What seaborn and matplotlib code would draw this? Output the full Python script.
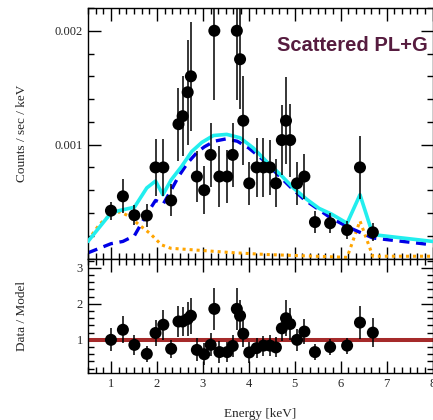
import numpy as np
import pandas as pd
import matplotlib
matplotlib.use("Agg")
import matplotlib.pyplot as plt
from matplotlib.ticker import MultipleLocator
import seaborn as sns

# data -------------------------------------------------------------------------

energy = [1.00, 1.26, 1.51, 1.78, 1.97, 2.14, 2.31, 2.47, 2.56, 2.67, 2.74, 2.87,
          3.03, 3.17, 3.25, 3.36, 3.53, 3.65, 3.74, 3.81, 3.88, 4.01, 4.17, 4.32,
          4.46, 4.59, 4.72, 4.81, 4.90, 5.05, 5.21, 5.44, 5.77, 6.14, 6.42, 6.70]

counts = [0.00042, 0.000546, 0.00038, 0.000377, 0.0008, 0.0008, 0.00051, 0.00118,
          0.00125, 0.00146, 0.0016, 0.00072, 0.0006, 0.00091, 0.002, 0.00072,
          0.00072, 0.00091, 0.002, 0.00175, 0.00121, 0.00066, 0.0008, 0.0008,
          0.0008, 0.00066, 0.00104, 0.00121, 0.00104, 0.00066, 0.00072, 0.00032,
          0.00031, 0.00025, 0.0008, 0.00023]

counts_err = [0.00008, 0.00015, 0.00009, 0.0001, 0.00025, 0.00025, 0.00014, 0.00032,
              0.00035, 0.00046, 0.00048, 0.00022, 0.00021, 0.00028, 0.00061, 0.00027,
              0.00023, 0.00028, 0.00061, 0.00044, 0.00039, 0.00019, 0.00026, 0.00026,
              0.00024, 0.00021, 0.00031, 0.00038, 0.00032, 0.00019, 0.0002, 0.0001,
              0.00009, 0.00008, 0.00028, 0.00008]

ratio = [1.00, 1.28, 0.86, 0.61, 1.19, 1.42, 0.75, 1.51, 1.51, 1.58, 1.67, 0.72,
         0.60, 0.86, 1.86, 0.66, 0.66, 0.83, 1.86, 1.67, 1.17, 0.65, 0.77, 0.84,
         0.84, 0.79, 1.32, 1.60, 1.44, 1.00, 1.23, 0.66, 0.80, 0.84, 1.48, 1.20]

ratio_err = [0.32, 0.37, 0.28, 0.22, 0.37, 0.42, 0.25, 0.42, 0.40, 0.46, 0.50, 0.32,
             0.30, 0.32, 0.58, 0.30, 0.28, 0.30, 0.58, 0.45, 0.38, 0.28, 0.28, 0.28,
             0.30, 0.28, 0.35, 0.50, 0.45, 0.30, 0.35, 0.22, 0.22, 0.22, 0.45, 0.40]

# total model (cyan)
total_e = [0.5, 1.0, 1.17, 1.51, 1.78, 1.97, 2.13, 2.31, 2.54, 2.76, 2.98, 3.23, 3.52,
           3.81, 4.10, 4.39, 4.68, 4.97, 5.26, 5.53, 5.80, 6.14, 6.42, 6.70, 8.0]
total_m = [0.00015, 0.0004, 0.00042, 0.00045, 0.00062, 0.00068, 0.00056, 0.00069,
           0.00081, 0.00094, 0.00102, 0.00108, 0.00109, 0.00106, 0.00097, 0.00085,
           0.00074, 0.00062, 0.00052, 0.00044, 0.00039, 0.00031, 0.00056, 0.00021,
           0.00015]

# scattered power law (blue dashed)
pl_e = [0.5, 1.0, 1.26, 1.51, 1.78, 1.97, 2.14, 2.31, 2.47, 2.67, 2.87, 3.03, 3.25,
        3.5, 3.75, 4.0, 4.3, 4.6, 4.9, 5.2, 5.45, 5.77, 6.14, 6.42, 6.70, 8.0]
pl_m = [0.00005, 0.00013, 0.00015, 0.0002, 0.00039, 0.00051, 0.00048, 0.0006,
        0.00072, 0.00084, 0.00093, 0.00098, 0.00103, 0.00105, 0.00103, 0.00097,
        0.00087, 0.00075, 0.00063, 0.00052, 0.00045, 0.00036, 0.00028, 0.00023,
        0.00018, 0.00012]

# soft + gaussian component (orange dotted)
g_e = [0.5, 0.75, 1.0, 1.2, 1.4, 1.6, 1.85, 2.1, 2.3, 3.0, 3.7, 4.4, 5.1, 5.8,
       6.14, 6.42, 6.70, 8.0]
g_m = [0.00016, 0.0003, 0.00039, 0.00041, 0.00037, 0.0003, 0.00022, 0.00012,
       0.00009, 0.00007, 0.00005, 0.000035, 0.000025, 0.000015, 0.00001, 0.00033,
       0.00002, 0.00002]

spec_df = pd.DataFrame({'E': energy, 'rate': counts, 'err': counts_err,
                        'ratio': ratio, 'rerr': ratio_err})

# Style -----------------------------------------------------------------------

sns.set_style("ticks")
plt.rcParams['font.family'] = ['Liberation Serif', 'DejaVu Serif']
plt.rcParams['xtick.direction'] = 'in'
plt.rcParams['ytick.direction'] = 'in'

fig = plt.figure(figsize=(4.33, 4.20), dpi=100)
ax1 = fig.add_axes([0.2032, 0.3845, 0.7958, 0.5965])
ax2 = fig.add_axes([0.2032, 0.112, 0.7958, 0.2725])

# Top panel -------------------------------------------------------------------

sns.lineplot(x=g_e, y=g_m, ax=ax1, color='#ffa500', lw=2.2,
             linestyle=(0, (1, 1.3)), estimator=None, zorder=2)
sns.lineplot(x=pl_e, y=pl_m, ax=ax1, color='#0000e6', lw=2.4,
             linestyle=(0, (3, 2)), estimator=None, zorder=2)
sns.lineplot(x=total_e, y=total_m, ax=ax1, color='#22eeee', lw=2.6,
             estimator=None, zorder=3)

ax1.errorbar(spec_df['E'], spec_df['rate'], yerr=spec_df['err'], fmt='none',
             ecolor='black', elinewidth=1.1, zorder=4)
sns.scatterplot(x='E', y='rate', data=spec_df, ax=ax1, color='black', s=75,
                edgecolor='none', zorder=5)

ax1.set_xlim(0.5, 8.0)
ax1.set_ylim(0.0, 0.0022)
ax1.set_yticks([0.001, 0.002])
ax1.set_yticklabels(['0.001', '0.002'])
ax1.yaxis.set_minor_locator(MultipleLocator(0.0002))
ax1.xaxis.set_major_locator(MultipleLocator(1))
ax1.xaxis.set_minor_locator(MultipleLocator(1 / 6))
ax1.tick_params(labelbottom=False)
ax1.set_xlabel('')
ax1.set_ylabel('Counts / sec / keV', fontsize=9.5)

ax1.text(0.985, 0.85, 'Scattered PL+G', transform=ax1.transAxes, ha='right',
         va='center', fontsize=14.5, fontweight='bold', color='#561c3f',
         family='Liberation Sans')

# Bottom panel ----------------------------------------------------------------

ax2.axhline(1.0, color='#a52a2a', lw=2.9, zorder=2)
ax2.errorbar(spec_df['E'], spec_df['ratio'], yerr=spec_df['rerr'], fmt='none',
             ecolor='black', elinewidth=1.1, zorder=3)
sns.scatterplot(x='E', y='ratio', data=spec_df, ax=ax2, color='black', s=75,
                edgecolor='none', zorder=4)

ax2.set_xlim(0.5, 8.0)
ax2.set_ylim(0.08, 3.26)
ax2.set_yticks([1, 2, 3])
ax2.yaxis.set_minor_locator(MultipleLocator(0.2))
ax2.xaxis.set_major_locator(MultipleLocator(1))
ax2.xaxis.set_minor_locator(MultipleLocator(1 / 6))
ax2.set_xlabel('Energy [keV]', fontsize=9.5, labelpad=13)
ax2.set_ylabel('Data / Model', fontsize=9.5)

for ax in (ax1, ax2):
    ax.tick_params(which='both', top=True, right=True, labelsize=9, width=1.0,
                   color='black')
    ax.tick_params(which='major', length=9)
    ax.tick_params(which='minor', length=4.5)
    for sp in ax.spines.values():
        sp.set_linewidth(1.0)
        sp.set_color('black')

ax1.yaxis.set_label_coords(-0.175, 0.5)
ax2.yaxis.set_label_coords(-0.175, 0.5)

fig.savefig('out.png', dpi=100)
